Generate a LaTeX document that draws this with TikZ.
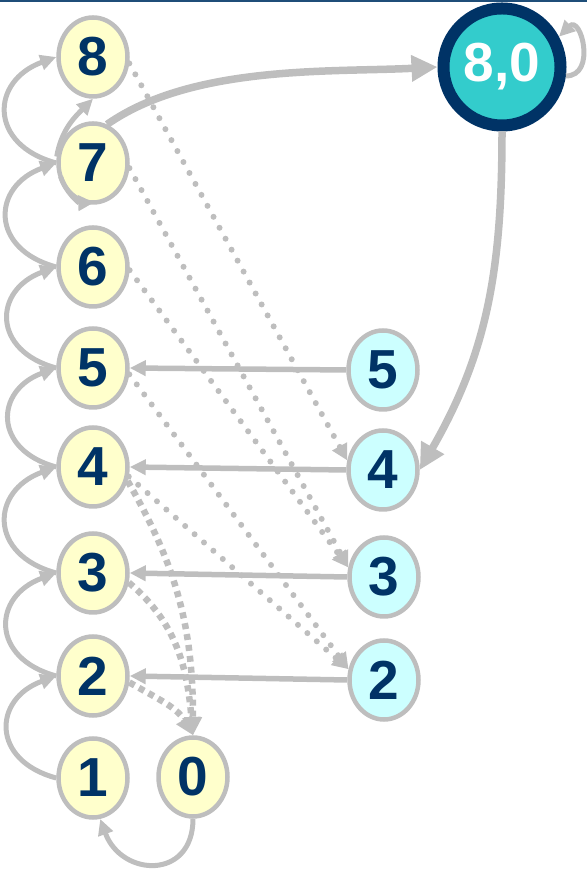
\documentclass[tikz,border=0pt]{standalone}
\usepackage{fontspec}
\setmainfont{Liberation Sans}
\usetikzlibrary{arrows.meta,shapes.geometric,positioning}
\definecolor{myGray}{RGB}{190,190,190}
\definecolor{myInk}{RGB}{0,51,102}
\definecolor{myYellow}{RGB}{255,255,204}
\definecolor{myCyan}{RGB}{204,255,255}
\definecolor{myTeal}{RGB}{51,204,204}
\definecolor{myRuleBlue}{RGB}{31,78,121}
\tikzset{
myOld/.style={
	ellipse,draw=myGray,fill=myYellow,line width=4.5pt,
	inner sep=0pt,minimum width=69pt,minimum height=79pt,
	text=myInk,font=\bfseries\fontsize{55}{55}\selectfont
}
, myNew/.style={
	myOld,fill=myCyan
}
, myRoot/.style={
	circle,draw=myInk,fill=myTeal,line width=12pt,
	inner sep=0pt,minimum size=117pt,
	text=white,font=\bfseries\fontsize{55}{55}\selectfont
}
% link
, myChain/.style={-{Triangle[length=16pt,width=15pt]},draw=myGray,line width=5pt}
, myCopy/.style={-{Triangle[length=16pt,width=15pt]},draw=myGray,line width=5.5pt}
, myMove/.style={-{Triangle[length=26pt,width=25pt]},draw=myGray,line width=7.5pt}
, myHint/.style={-{Triangle[length=16pt,width=16pt]},draw=myGray,line width=6pt,
	line cap=round,dash pattern=on 0pt off 12.5pt}
, myFree/.style={-{Triangle[length=18pt,width=17pt]},draw=myGray,line width=6.5pt,
	dash pattern=on 6pt off 5pt}
, myRule/.style={draw=myRuleBlue,line width=2pt}
}

\begin{document}
\begin{tikzpicture}[x=1pt,y=1pt]
	\useasboundingbox (0,0) rectangle (587,869);
	\draw[myRule] (0,868) -- (587,868);

	% nodes
	\node[myOld] (L8) at ( 93,812) {8};
	\node[myOld] (L7) at ( 93,706) {7};
	\node[myOld] (L6) at ( 93,602) {6};
	\node[myOld] (L5) at ( 93,501) {5};
	\node[myOld] (L4) at ( 93,402) {4};
	\node[myOld] (L3) at ( 93,296) {3};
	\node[myOld] (L2) at ( 93,193) {2};
	\node[myOld] (L1) at ( 93, 91) {1};
	\node[myOld] (L0) at (193, 92) {0};

	\node[myNew] (R5) at (383,499) {5};
	\node[myNew] (R4) at (383,399) {4};
	\node[myNew] (R3) at (384,292) {3};
	\node[myNew] (R2) at (384,189) {2};

	\node[myRoot] (Root) at (502,802) {8,0};

	% chain on the left
	\draw [myChain] (L1.west) to[out=165,in=200,looseness=1.7] (L2.west);
	\draw [myChain] (L2.west) to[out=165,in=200,looseness=1.7] (L3.west);
	\draw [myChain] (L3.west) to[out=165,in=200,looseness=1.7] (L4.west);
	\draw [myChain] (L4.west) to[out=165,in=200,looseness=1.7] (L5.west);
	\draw [myChain] (L5.west) to[out=165,in=200,looseness=1.7] (L6.west);
	\draw [myChain] (L6.west) to[out=165,in=200,looseness=1.7] (L7.west);
	\draw [myChain] (L7.west) to[out=165,in=200,looseness=1.7] (L8.west);
	\draw [myChain] (L7.170) to[out=80,in=225] (L8.south);
	\draw [myChain] (L7.center) ++(200:34.5 and 39.5) arc[start angle=200,end angle=272,x radius=34.5,y radius=39.5];
	\draw [myChain] (L0.south) to[out=-90,in=-70,looseness=1.7] (L1.-80);

	% copies
	\draw [myCopy] (R5.west) -- (L5.east);
	\draw [myCopy] (R4.west) -- (L4.east);
	\draw [myCopy] (R3.west) -- (L3.east);
	\draw [myCopy] (R2.west) -- (L2.east);

	% hints
	\draw [myHint] (L8.-10) -- (R4.165);
	\draw [myHint] (L7.-8) -- (R3.165);
	\draw [myHint] (L6.-5) -- (R3.165);
	\draw [myHint] (L5.-10) -- (R2.163);
	\draw [myHint] (L4.-15) -- (R2.163);

	% free slots
	\draw [myFree] (L4.-22) to[out=-60,in=90] (L0.north);
	\draw [myFree] (L3.-15) to[out=-40,in=95] (L0.north);
	\draw [myFree] (L2.-10) to[out=-30,in=120] (L0.north);

	% root
	\draw [myMove] (L7.70) to[out=35,in=183,looseness=0.8] (Root.west);
	\draw [myMove] (Root.south) to[out=-90,in=60] (R4.east);
	\draw [myChain] (Root.-8) to[out=0,in=45,looseness=2] (Root.28);
\end{tikzpicture}
\end{document}
